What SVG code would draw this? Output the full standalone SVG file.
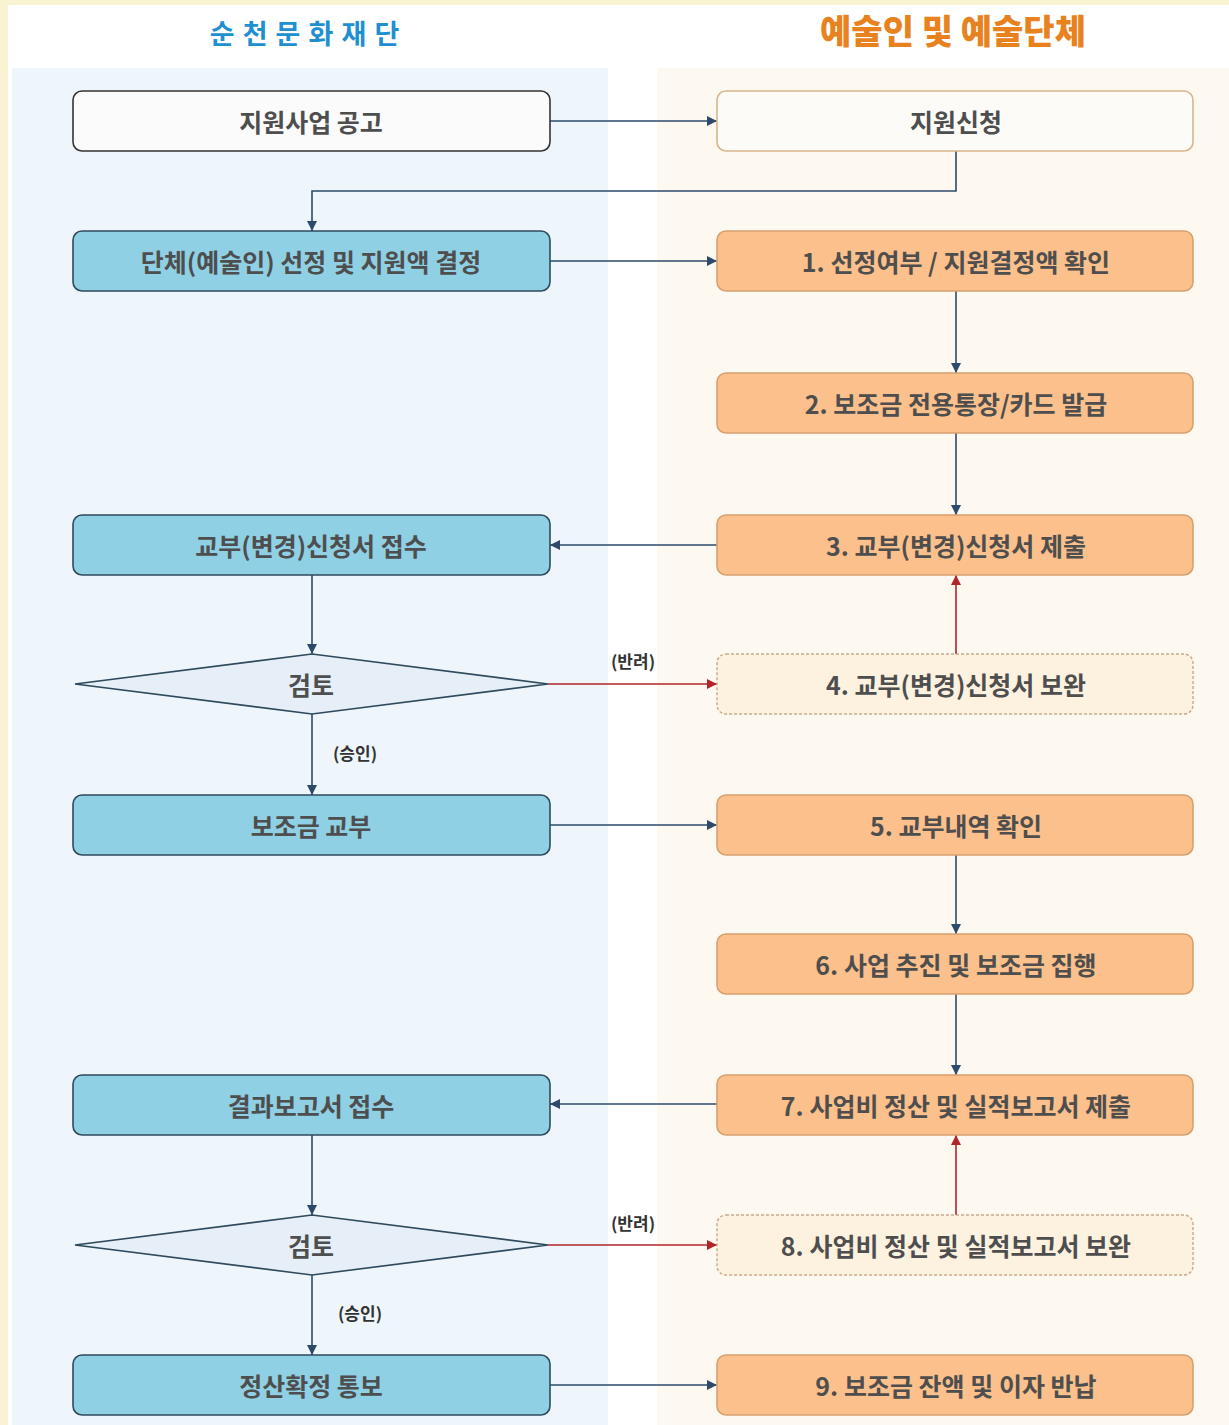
<svg xmlns="http://www.w3.org/2000/svg" width="1229" height="1425" viewBox="0 0 1229 1425">
<style>
.t{font-family:"Noto Sans CJK KR","Noto Sans",sans-serif;font-weight:700;font-size:25px;fill:#4e4e4e;text-anchor:middle;dominant-baseline:central}
.lb{font-family:"Noto Sans CJK KR","Noto Sans",sans-serif;font-weight:700;font-size:17px;fill:#333;text-anchor:middle;dominant-baseline:central}
.bl{fill:#8fd0e4;stroke:#2f4a5c;stroke-width:1.6}
.or{fill:#fbc08b;stroke:#d9a070;stroke-width:1.6}
.dash{fill:#fdf1e0;stroke:#c9a98a;stroke-width:1.4;stroke-dasharray:3 2}
.cn{fill:none;stroke:#2d4a6a;stroke-width:1.6}
.rd{fill:none;stroke:#b0242a;stroke-width:1.6}
</style>
<defs>
<marker id="ab" viewBox="0 0 10 10" refX="10" refY="5" markerWidth="10" markerHeight="10" markerUnits="userSpaceOnUse" orient="auto"><path d="M0,0 L10,5 L0,10 z" fill="#2d4a6a"/></marker>
<marker id="ar" viewBox="0 0 10 10" refX="10" refY="5" markerWidth="10" markerHeight="10" markerUnits="userSpaceOnUse" orient="auto"><path d="M0,0 L10,5 L0,10 z" fill="#b0242a"/></marker>
</defs>
<rect width="1229" height="1425" fill="#faf3d2"/>
<rect x="8" y="5" width="1221" height="1420" fill="#ffffff"/>
<rect x="12" y="68" width="596" height="1357" fill="#eef6fc"/>
<rect x="657" y="68" width="572" height="1357" fill="#fdf9f1"/>
<text x="305" y="32" style="font-family:'Noto Sans CJK KR',sans-serif;font-weight:700;font-size:27px;fill:#1e8fd0;text-anchor:middle;dominant-baseline:central;letter-spacing:1px">순 천 문 화 재 단</text>
<text x="953" y="29" style="font-family:'Noto Sans CJK KR',sans-serif;font-weight:900;font-size:34px;fill:#e8821e;text-anchor:middle;dominant-baseline:central">예술인 및 예술단체</text>

<g id="connectors">
<path class="cn" d="M550,121 H717" marker-end="url(#ab)"/>
<path class="cn" d="M956,151 V191 H312 V231" marker-end="url(#ab)"/>
<path class="cn" d="M550,261 H717" marker-end="url(#ab)"/>
<path class="cn" d="M956,291 V373" marker-end="url(#ab)"/>
<path class="cn" d="M956,433 V515" marker-end="url(#ab)"/>
<path class="cn" d="M717,545 H550" marker-end="url(#ab)"/>
<path class="cn" d="M312,575 V654" marker-end="url(#ab)"/>
<path class="rd" d="M548,684 H717" marker-end="url(#ar)"/>
<path class="rd" d="M956,654 V575" marker-end="url(#ar)"/>
<path class="cn" d="M312,714 V795" marker-end="url(#ab)"/>
<path class="cn" d="M550,825 H717" marker-end="url(#ab)"/>
<path class="cn" d="M956,855 V934" marker-end="url(#ab)"/>
<path class="cn" d="M956,994 V1075" marker-end="url(#ab)"/>
<path class="cn" d="M717,1104 H550" marker-end="url(#ab)"/>
<path class="cn" d="M312,1135 V1215" marker-end="url(#ab)"/>
<path class="rd" d="M548,1245 H717" marker-end="url(#ar)"/>
<path class="rd" d="M956,1215 V1135" marker-end="url(#ar)"/>
<path class="cn" d="M312,1275 V1355" marker-end="url(#ab)"/>
<path class="cn" d="M550,1385 H717" marker-end="url(#ab)"/>
<text class="lb" x="633" y="660">(반려)</text>
<text class="lb" x="355" y="752">(승인)</text>
<text class="lb" x="633" y="1222">(반려)</text>
<text class="lb" x="360" y="1312">(승인)</text>
</g>

<g id="n-notice"><rect x="73" y="91" width="477" height="60" rx="9" fill="#fbfbfb" stroke="#333" stroke-width="1.6"/><text class="t" x="311" y="121">지원사업 공고</text></g>
<g id="n-apply"><rect x="717" y="91" width="476" height="60" rx="9" fill="#fdfbf8" stroke="#d9b48c" stroke-width="1.6"/><text class="t" x="956" y="121">지원신청</text></g>
<g id="n-select"><rect class="bl" x="73" y="231" width="477" height="60" rx="9"/><text class="t" x="311" y="261">단체(예술인) 선정 및 지원액 결정</text></g>
<g id="n-1"><rect class="or" x="717" y="231" width="476" height="60" rx="9"/><text class="t" x="956" y="261">1. 선정여부 / 지원결정액 확인</text></g>
<g id="n-2"><rect class="or" x="717" y="373" width="476" height="60" rx="9"/><text class="t" x="956" y="403">2. 보조금 전용통장/카드 발급</text></g>
<g id="n-recv"><rect class="bl" x="73" y="515" width="477" height="60" rx="9"/><text class="t" x="311" y="545">교부(변경)신청서 접수</text></g>
<g id="n-3"><rect class="or" x="717" y="515" width="476" height="60" rx="9"/><text class="t" x="956" y="545">3. 교부(변경)신청서 제출</text></g>
<g id="n-review1"><polygon points="75,684 312,654 548,684 312,714" fill="#e6eff8" stroke="#2f4a5c" stroke-width="1.6"/><text class="t" x="311" y="684">검토</text></g>
<g id="n-4"><rect class="dash" x="717" y="654" width="476" height="60" rx="9"/><text class="t" x="956" y="684">4. 교부(변경)신청서 보완</text></g>
<g id="n-grant"><rect class="bl" x="73" y="795" width="477" height="60" rx="9"/><text class="t" x="311" y="825">보조금 교부</text></g>
<g id="n-5"><rect class="or" x="717" y="795" width="476" height="60" rx="9"/><text class="t" x="956" y="825">5. 교부내역 확인</text></g>
<g id="n-6"><rect class="or" x="717" y="934" width="476" height="60" rx="9"/><text class="t" x="956" y="964">6. 사업 추진 및 보조금 집행</text></g>
<g id="n-report"><rect class="bl" x="73" y="1075" width="477" height="60" rx="9"/><text class="t" x="311" y="1105">결과보고서 접수</text></g>
<g id="n-7"><rect class="or" x="717" y="1075" width="476" height="60" rx="9"/><text class="t" x="956" y="1105">7. 사업비 정산 및 실적보고서 제출</text></g>
<g id="n-review2"><polygon points="75,1245 312,1215 548,1245 312,1275" fill="#e6eff8" stroke="#2f4a5c" stroke-width="1.6"/><text class="t" x="311" y="1245">검토</text></g>
<g id="n-8"><rect class="dash" x="717" y="1215" width="476" height="60" rx="9"/><text class="t" x="956" y="1245">8. 사업비 정산 및 실적보고서 보완</text></g>
<g id="n-final"><rect class="bl" x="73" y="1355" width="477" height="60" rx="9"/><text class="t" x="311" y="1385">정산확정 통보</text></g>
<g id="n-9"><rect class="or" x="717" y="1355" width="476" height="60" rx="9"/><text class="t" x="956" y="1385">9. 보조금 잔액 및 이자 반납</text></g>
</svg>
